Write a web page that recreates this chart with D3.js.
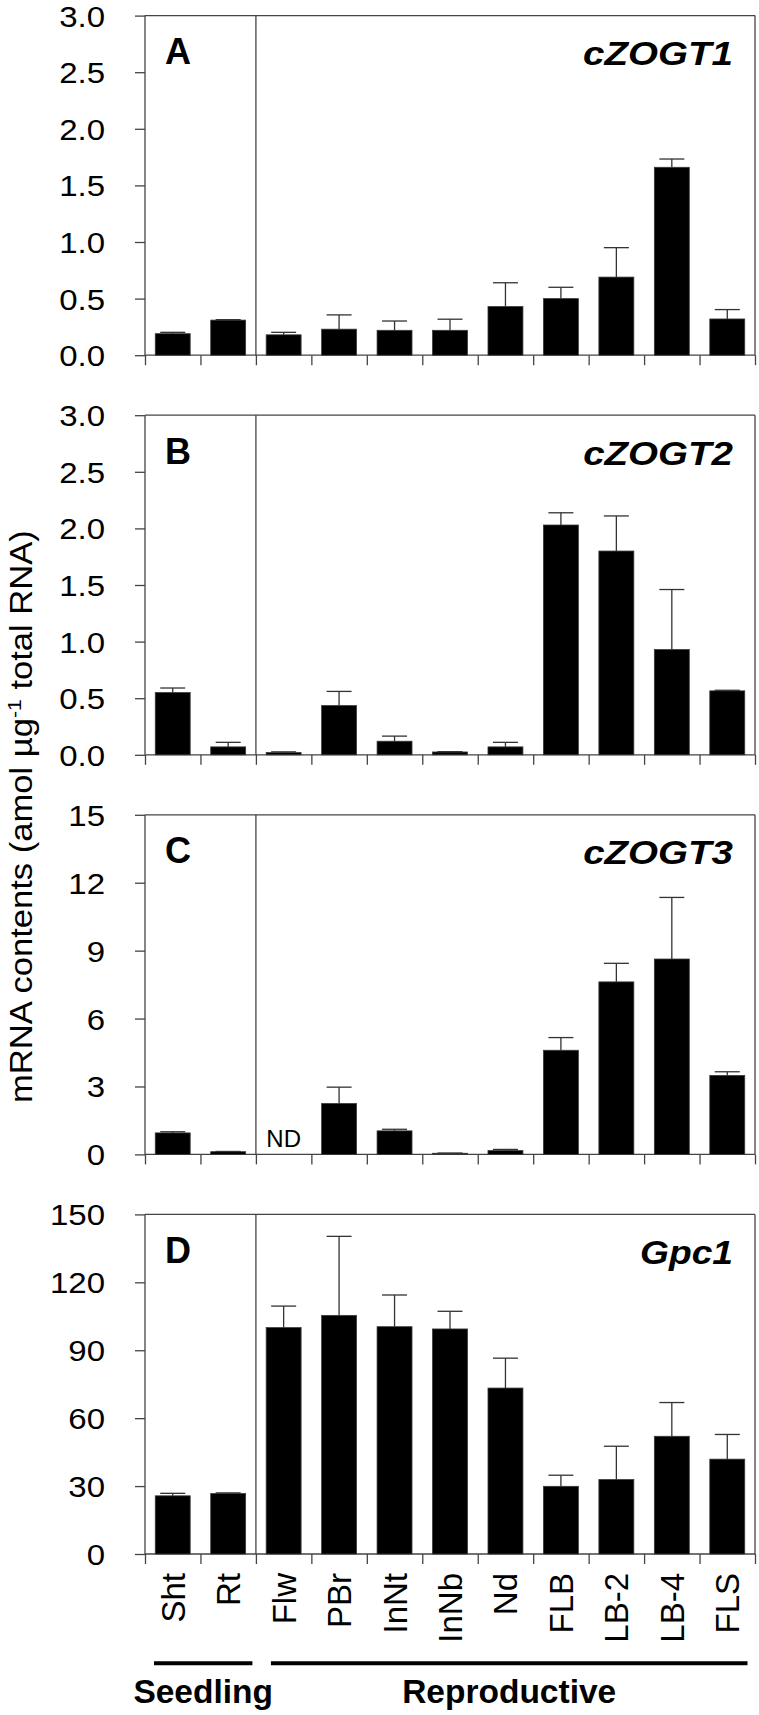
<!DOCTYPE html>
<html><head><meta charset="utf-8">
<script src="https://cdn.jsdelivr.net/npm/d3@7"></script>
<style>
body{margin:0;background:#fff}
svg{display:block}
text{font-family:"Liberation Sans",Arial,Helvetica,sans-serif}
</style>
</head><body>
<svg id="chart" width="759" height="1715"></svg>
<script>
// ---------- data ----------
const categories = ["Sht","Rt","Flw","PBr","InNt","InNb","Nd","FLB","LB-2","LB-4","FLS"];
const groupNames = ["Seedling","Reproductive"];
const groupStart = [0,2];
const groupEnd = [2,11];
const panelLetters = ["A","B","C","D"];
const geneNames = ["cZOGT1","cZOGT2","cZOGT3","Gpc1"];

const cZOGT1     = [0.19,0.31,0.18,0.23,0.22,0.22,0.43,0.50,0.69,1.66,0.32];
const cZOGT1Err  = [0.012,0.004,0.022,0.126,0.082,0.098,0.21,0.10,0.26,0.073,0.083];
const cZOGT2     = [0.55,0.07,0.02,0.435,0.12,0.025,0.07,2.03,1.80,0.93,0.565];
const cZOGT2Err  = [0.04,0.04,0.006,0.125,0.045,0.003,0.04,0.108,0.31,0.53,0.005];
const cZOGT3     = [0.95,0.12,null,2.25,1.04,0.05,0.17,4.60,7.62,8.63,3.49];
const cZOGT3Err  = [0.05,0.01,null,0.72,0.07,0.01,0.05,0.56,0.82,2.72,0.16];
const Gpc1       = [25.7,26.7,100.0,105.4,100.4,99.4,73.3,29.9,32.9,52.0,41.9];
const Gpc1Err    = [1.1,0.3,9.5,34.9,14.0,7.8,13.2,4.9,14.7,14.9,10.9];

const yMaxes = [3,3,15,150];
const yTicksA = [0,0.5,1.0,1.5,2.0,2.5,3.0];
const yTicksB = [0,0.5,1.0,1.5,2.0,2.5,3.0];
const yTicksC = [0,3,6,9,12,15];
const yTicksD = [0,30,60,90,120,150];
const yFormats = [".1f",".1f","d","d"];
const ndLabel = "ND";
const yAxisTitleMain = "mRNA contents (amol µg";
const yAxisTitleSup = "-1";
const yAxisTitleEnd = " total RNA)";

const panels = [
  {vals:cZOGT1, errs:cZOGT1Err, ticks:yTicksA},
  {vals:cZOGT2, errs:cZOGT2Err, ticks:yTicksB},
  {vals:cZOGT3, errs:cZOGT3Err, ticks:yTicksC},
  {vals:Gpc1,   errs:Gpc1Err,   ticks:yTicksD}
];

// ---------- layout ----------
const svg = d3.select("#chart");
const L = 145, R = 755;
const panelH = 339.6, panelStep = 399.6, firstTop = 15.6;
const frameColor = "#444";
const x = d3.scaleBand().domain(categories).range([L,R]).padding(0);
const edge = d3.scaleLinear().domain([0,categories.length]).range([L,R]);
const barW = x.bandwidth()*0.63;
const capW = 25;

function stretchText(sel, targetW){
  const w = sel.node().getBBox().width;
  return targetW / w;
}

panels.forEach((p,i)=>{
  const top = firstTop + i*panelStep;
  const bottom = top + panelH;
  const y = d3.scaleLinear().domain([0,yMaxes[i]]).range([bottom,top]);
  const g = svg.append("g");

  // y axis ticks + labels
  const ya = g.append("g").attr("transform",`translate(${L},0)`)
    .call(d3.axisLeft(y).tickValues(p.ticks).tickSize(10).tickFormat(d3.format(yFormats[i])));
  ya.select(".domain").remove();
  ya.attr("font-size",null).attr("font-family",null);
  ya.selectAll(".tick line").attr("stroke",frameColor).attr("stroke-width",1.3);
  const sx = 1.1;
  ya.selectAll(".tick text")
    .attr("fill","#000").style("font-size","30px")
    .attr("x",-40/sx).attr("dy","0.35em")
    .attr("transform",`scale(${sx},1)`);

  // x ticks at band edges
  const xa = g.append("g").attr("transform",`translate(0,${bottom})`)
    .call(d3.axisBottom(edge).tickValues(d3.range(categories.length+1)).tickSize(10).tickFormat(""));
  xa.select(".domain").remove();
  xa.selectAll(".tick line").attr("stroke",frameColor).attr("stroke-width",1.3);

  // frame
  const frame = [[L,top,R,top],[R,top,R,bottom],[L,top,L,bottom],[L,bottom,R,bottom],[edge(2),top,edge(2),bottom]];
  g.selectAll("line.frame").data(frame).join("line").attr("class","frame")
    .attr("x1",d=>d[0]).attr("y1",d=>d[1]).attr("x2",d=>d[2]).attr("y2",d=>d[3])
    .attr("stroke",frameColor).attr("stroke-width",1.3);

  // bars
  const data = categories.map((c,k)=>({c, v:p.vals[k], e:p.errs[k]}));
  const valid = data.filter(d=>d.v!=null);
  g.selectAll("rect.bar").data(valid).join("rect").attr("class","bar")
    .attr("x",d=>x(d.c)+(x.bandwidth()-barW)/2)
    .attr("width",barW)
    .attr("y",d=>y(d.v))
    .attr("height",d=>y(0)-y(d.v))
    .attr("fill","#000").attr("stroke","#3a3a3a").attr("stroke-width",0.8);

  // error bars
  const eg = g.selectAll("g.err").data(valid).join("g").attr("class","err");
  eg.append("line")
    .attr("x1",d=>x(d.c)+x.bandwidth()/2).attr("x2",d=>x(d.c)+x.bandwidth()/2)
    .attr("y1",d=>y(d.v)).attr("y2",d=>y(d.v+d.e))
    .attr("stroke","#333").attr("stroke-width",1.3);
  eg.append("line")
    .attr("x1",d=>x(d.c)+x.bandwidth()/2-capW/2).attr("x2",d=>x(d.c)+x.bandwidth()/2+capW/2)
    .attr("y1",d=>y(d.v+d.e)).attr("y2",d=>y(d.v+d.e))
    .attr("stroke","#333").attr("stroke-width",1.3);

  // ND label
  data.filter(d=>d.v==null).forEach(d=>{
    g.append("text").attr("x",x(d.c)+x.bandwidth()/2).attr("y",bottom-7)
      .attr("text-anchor","middle").style("font-size","24px").attr("fill","#000").text(ndLabel);
  });

  // panel letter
  g.append("text").attr("x",165).attr("y",top+48.5)
    .style("font-size","36px").style("font-weight","bold").attr("fill","#000").text(panelLetters[i]);

  // gene name
  const gt = g.append("text").attr("text-anchor","end")
    .style("font-size","34px").style("font-weight","bold").style("font-style","italic")
    .attr("fill","#000").text(geneNames[i]);
  const target = geneNames[i].length > 4 ? 150 : 93;
  const s = stretchText(gt, target);
  gt.attr("transform",`translate(733,${top+49.5}) scale(${s},1)`);

  // category labels on bottom panel
  if (i === panels.length-1){
    g.selectAll("text.cat").data(categories).join("text").attr("class","cat")
      .attr("text-anchor","end")
      .attr("transform",d=>`translate(${x(d)+x.bandwidth()/2+12},${bottom+19}) rotate(-90)`)
      .style("font-size","33px").attr("fill","#000").text(d=>d);

    // group lines and labels
    const insetL = [9,15], insetR = [3.5,7.5];
    groupNames.forEach((gn,k)=>{
      const x1 = edge(groupStart[k])+insetL[k], x2 = edge(groupEnd[k])-insetR[k];
      g.append("line").attr("x1",x1).attr("x2",x2).attr("y1",1663.3).attr("y2",1663.3)
        .attr("stroke","#000").attr("stroke-width",4);
      g.append("text").attr("x",(x1+x2)/2).attr("y",1703).attr("text-anchor","middle")
        .style("font-size","33.5px").style("font-weight","bold").attr("fill","#000").text(gn);
    });
  }
});

// y axis title: fit between y=530 (top) and y=1103 (bottom), baseline at x=32
const titleTop = 530, titleBottom = 1103, titleX = 32;
const yt = svg.append("text").attr("text-anchor","start").style("font-size","31px").attr("fill","#000");
yt.append("tspan").text(yAxisTitleMain);
yt.append("tspan").attr("dy",-11).style("font-size","19px").text(yAxisTitleSup);
yt.append("tspan").attr("dy",11).text(yAxisTitleEnd);
yt.attr("transform",`translate(${titleX},${titleBottom}) rotate(-90)`);
let r0 = yt.node().getBoundingClientRect();
const ks = (titleBottom-titleTop)/r0.height;
yt.attr("transform",`translate(${titleX},${titleBottom}) rotate(-90) scale(${ks},1)`);
let r1 = yt.node().getBoundingClientRect();
const shift = titleBottom - r1.bottom;
yt.attr("transform",`translate(${titleX},${titleBottom+shift}) rotate(-90) scale(${ks},1)`);
</script>
</body></html>
